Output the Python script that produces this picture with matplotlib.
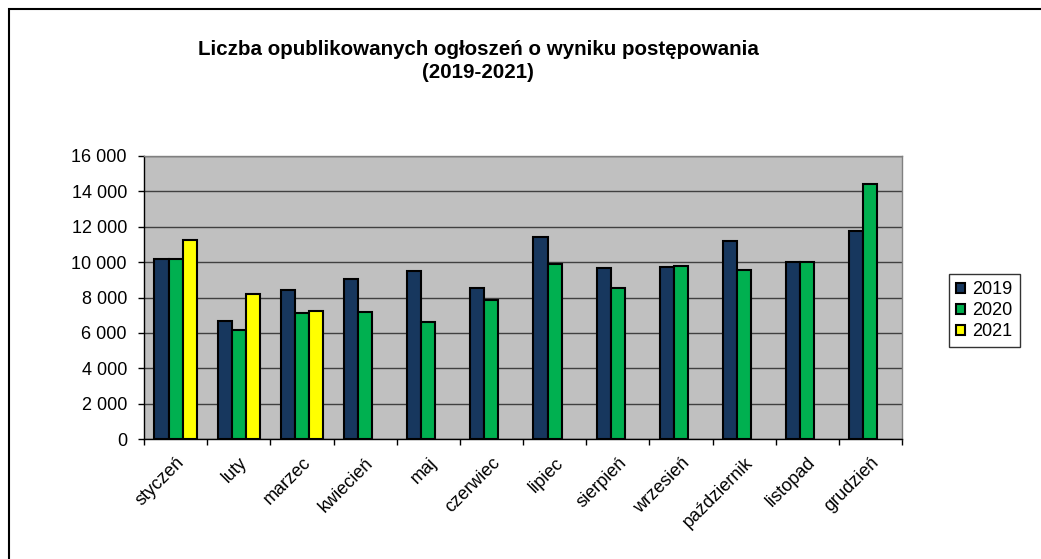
import numpy as np
import matplotlib.pyplot as plt
from matplotlib.patches import Rectangle
from matplotlib.ticker import FuncFormatter

plt.rcParams['font.family'] = ['Liberation Sans', 'DejaVu Sans']

months = ['styczeń', 'luty', 'marzec', 'kwiecień', 'maj', 'czerwiec',
          'lipiec', 'sierpień', 'wrzesień', 'październik', 'listopad', 'grudzień']
years = ['2019', '2020', '2021']
v2019 = [10150, 6650, 8430, 9030, 9520, 8550, 11430, 9660, 9710, 11180, 9980, 11770]
v2020 = [10200, 6180, 7150, 7170, 6610, 7870, 9880, 8510, 9770, 9540, 10000, 14400]
v2021 = [11260, 8170, 7230]
colors = ['#17375E', '#00B050', '#FFFF00']

fig = plt.figure(figsize=(10.41, 5.59), dpi=100)
# outer frame (only left and top visible in the original)
fig.add_artist(Rectangle((9 / 1041, -0.1), 1.2, 1.1 - 9 / 559, transform=fig.transFigure,
                         fill=False, lw=1.5, ec='black'))

ax = fig.add_axes([144 / 1041, 1 - 439 / 559, (902 - 144) / 1041, (439 - 156) / 559])
ax.set_facecolor('#C0C0C0')

x = np.arange(len(months))
w = 0.223
series = [v2019, v2020, v2021]
for i, vals in enumerate(series):
    xs = x[:len(vals)] + (i - 1) * w
    ax.bar(xs, vals, width=w, color=colors[i], edgecolor='black', linewidth=1.5,
           label=years[i], zorder=3)

ax.set_xlim(-0.5, len(months) - 0.5)
ax.set_ylim(0, 16000)
ax.set_yticks(np.arange(0, 16001, 2000))
ax.yaxis.set_major_formatter(FuncFormatter(lambda v, p: f'{int(v):,}'.replace(',', ' ')))
ax.grid(axis='y', color='#404040', lw=1, zorder=1)
ax.set_axisbelow(True)

ax.set_xticks(x)
ax.set_xticklabels(months, rotation=45, ha='right', va='top', rotation_mode='anchor', fontsize=13)
ax.set_xticks(np.arange(-0.5, len(months)), minor=True)
ax.tick_params(axis='x', which='major', length=0, pad=11)
ax.tick_params(axis='x', which='minor', length=4.3, width=1, direction='out')
ax.tick_params(axis='y', length=4.3, width=1, direction='out', labelsize=13, pad=8)

for s in ['top', 'right']:
    ax.spines[s].set_color('#808080')
    ax.spines[s].set_linewidth(1)
for s in ['left', 'bottom']:
    ax.spines[s].set_color('black')
    ax.spines[s].set_linewidth(1)

fig.text(478 / 1041, 1 - 61 / 559, 'Liczba opublikowanych ogłoszeń o wyniku postępowania\n(2019-2021)',
         ha='center', va='center', fontsize=14.8, fontweight='bold', linespacing=1.3)

leg = fig.legend(loc='upper left', bbox_to_anchor=(949 / 1041, 1 - 274 / 559),
                 frameon=True, fancybox=False, edgecolor='black', fontsize=13,
                 handlelength=0.5, handleheight=0.5, handletextpad=0.4,
                 borderpad=0.4, labelspacing=0.22, borderaxespad=0)
leg.get_frame().set_linewidth(1)

fig.savefig('out.png', dpi=100)
